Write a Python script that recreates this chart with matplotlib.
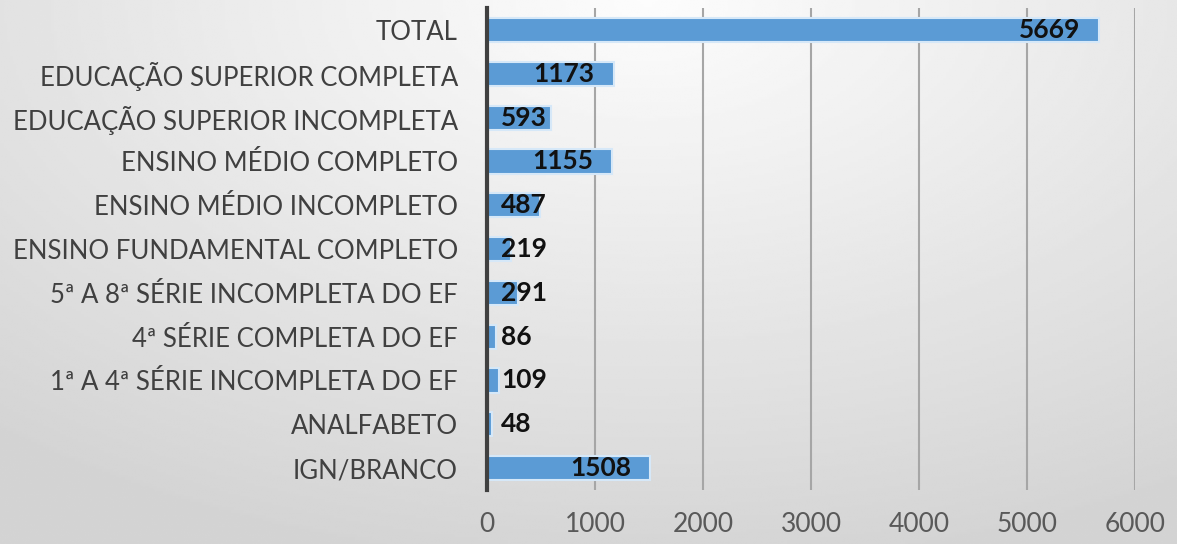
import matplotlib.pyplot as plt
import numpy as np

plt.rcParams['font.family'] = ['Lato', 'DejaVu Sans']

categorias = ['TOTAL', 'EDUCAÇÃO SUPERIOR COMPLETA', 'EDUCAÇÃO SUPERIOR INCOMPLETA',
              'ENSINO MÉDIO COMPLETO', 'ENSINO MÉDIO INCOMPLETO',
              'ENSINO FUNDAMENTAL COMPLETO', '5ª A 8ª SÉRIE INCOMPLETA DO EF',
              '4ª SÉRIE COMPLETA DO EF', '1ª A 4ª SÉRIE INCOMPLETA DO EF',
              'ANALFABETO', 'IGN/BRANCO']
valores = [5669, 1173, 593, 1155, 487, 219, 291, 86, 109, 48, 1508]
xticks = [0, 1000, 2000, 3000, 4000, 5000, 6000]

fig = plt.figure(figsize=(11.77, 5.44), dpi=100)

# gradient background
bg = fig.add_axes([0, 0, 1, 1], zorder=-1)
yy, xx = np.mgrid[0:1:200j, 0:1:400j]
d = np.sqrt(((xx - 0.55) / 0.85) ** 2 + ((yy - 0.0) / 1.05) ** 2)
shade = 0.99 - 0.16 * np.clip(d, 0, 1)
bg.imshow(shade, cmap='gray', vmin=0, vmax=1, aspect='auto', extent=[0, 1, 0, 1], origin='upper')
bg.axis('off')

ax = fig.add_axes([0.4138, 0.0993, 0.5505, 0.8857])
ax.patch.set_alpha(0)
y = np.arange(len(categorias))
ax.barh(y, valores, height=0.55, color='#5b9bd5', edgecolor='#d6e8f8', linewidth=1.5, zorder=3)
ax.set_ylim(len(categorias) - 0.5, -0.5)
ax.set_xlim(0, 6000)
ax.set_yticks(y)
ax.set_yticklabels(categorias, fontsize=18.5, color='#404040')
ax.set_xticks(xticks)
ax.set_xticklabels([str(t) for t in xticks], fontsize=19, color='#595959')
ax.tick_params(axis='y', length=0, pad=21)
ax.tick_params(axis='x', length=0, pad=16)
ax.grid(axis='x', color='#a6a6a6', lw=1.5, zorder=0)
for s in ['top', 'right', 'bottom']:
    ax.spines[s].set_visible(False)
ax.spines['left'].set_color('#404040')
ax.spines['left'].set_linewidth(3)
ax.spines['left'].set_zorder(4)

# value labels: inside end, but pushed right when bar is short
fig.canvas.draw()
r = fig.canvas.get_renderer()
px = ax.transData.transform((1000, 0))[0] - ax.transData.transform((0, 0))[0]
unit = 1000.0 / px
for yi, v in zip(y, valores):
    t = ax.text(v - 19 * unit, yi, str(v), ha='right', va='center', fontsize=19,
                fontweight='bold', color='#111111', zorder=5)
    w = t.get_window_extent(r).width * unit
    if v - 19 * unit - w < 12 * unit:
        t.set_x(14 * unit)
        t.set_ha('left')

fig.savefig('out.png', dpi=100)
